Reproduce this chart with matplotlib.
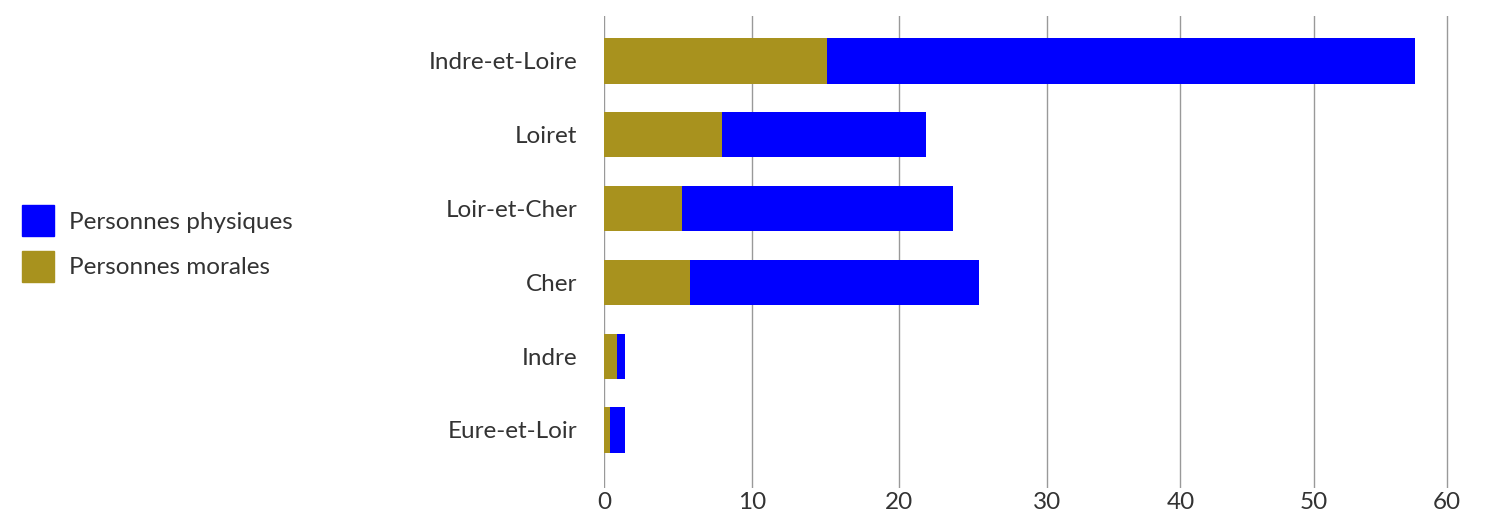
import numpy as np
import matplotlib.pyplot as plt
from matplotlib.patches import Patch

plt.rcParams['font.family'] = ['Lato', 'DejaVu Sans']

departements = ["Indre-et-Loire", "Loiret", "Loir-et-Cher", "Cher", "Indre", "Eure-et-Loir"]
morales = [15.1, 8.0, 5.3, 5.8, 0.9, 0.4]
physiques = [42.5, 13.8, 18.3, 19.6, 0.5, 1.0]
xticks = [0, 10, 20, 30, 40, 50, 60]

col_phys = "#0000FF"
col_mor = "#A8921E"

# the source axis is not evenly spaced: 0-30 wider than 30-60
def fwd(x):
    x = np.asarray(x, dtype=float)
    return np.where(x <= 30, x * 14.77, 30 * 14.77 + (x - 30) * 13.33)

def inv(y):
    y = np.asarray(y, dtype=float)
    return np.where(y <= 30 * 14.77, y / 14.77, 30 + (y - 30 * 14.77) / 13.33)

W, H = 1491, 513
fig = plt.figure(figsize=(W / 100, H / 100), dpi=100)
ax = fig.add_axes([604 / W, 1 - 488 / H, (1449 - 604) / W, (488 - 16) / H])
ax.set_xscale('function', functions=(fwd, inv))

y = np.arange(len(departements))
ax.barh(y, morales, height=0.61, color=col_mor, zorder=3)
ax.barh(y, physiques, left=morales, height=0.61, color=col_phys, zorder=3)

ax.set_xlim(0, 60.15)
ax.set_ylim(5 + 58 / 73.8, -45 / 73.8)
ax.set_xticks(xticks)
ax.set_xticklabels([str(t) for t in xticks])
ax.set_yticks(y)
ax.set_yticklabels(departements, va='center_baseline')
ax.tick_params(axis='both', length=0, labelsize=17.5, colors="#333333")
ax.tick_params(axis='y', pad=19)
ax.tick_params(axis='x', pad=3)
ax.grid(axis='x', color="#999999", linewidth=1, zorder=0)
for s in ax.spines.values():
    s.set_visible(False)

handles = [Patch(color=col_phys, label="Personnes physiques"),
           Patch(color=col_mor, label="Personnes morales")]
fig.legend(handles=handles, loc="upper left", bbox_to_anchor=(14 / W, 1 - 197 / H),
           frameon=False, fontsize=17.5, handlelength=1.3, handleheight=1.6,
           handletextpad=0.62, labelspacing=0.6, labelcolor="#333333",
           borderaxespad=0, borderpad=0.33)

fig.savefig("out.png", dpi=100)
